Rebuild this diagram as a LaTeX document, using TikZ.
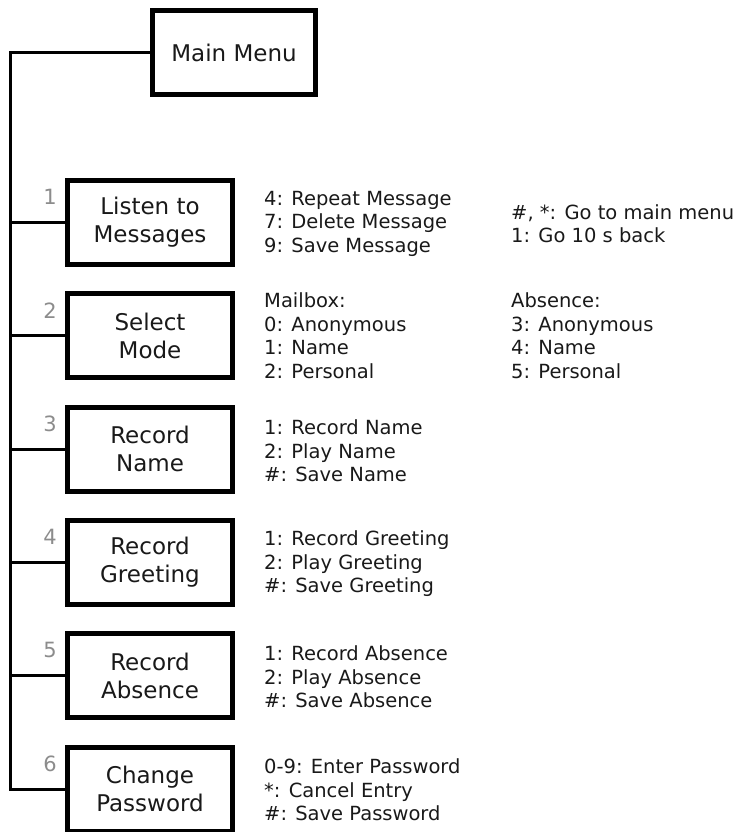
\documentclass[tikz,border=0pt]{standalone}
\usepackage{fontspec}
\setmainfont{DejaVu Sans}
\begin{document}
\begin{tikzpicture}[x=1pt,y=-1pt,
  menubox/.style={draw=black, line width=5pt, minimum width=165pt, minimum height=84pt,
    align=center, inner sep=0pt, text=black!90, font=\fontsize{23}{28}\selectfont},
  keys/.style={anchor=west, align=left, inner sep=0pt, text=black!90,
    font=\fontsize{19.5}{23.5}\selectfont},
  num/.style={text=black!45, inner sep=0pt, font=\fontsize{21}{22}\selectfont},
  conn/.style={line width=3pt, black}]
\useasboundingbox (0,0) rectangle (748,832);
\coordinate (trunk) at (10,0);

\node[menubox, minimum width=163pt] (main) at (234,52.5) {Main Menu};

\node[menubox] (b1) at (150,222.5) {Listen to\\Messages};
\node[menubox] (b2) at (150,335.8) {Select\\Mode};
\node[menubox] (b3) at (150,449) {Record\\Name};
\node[menubox] (b4) at (150,562.5) {Record\\Greeting};
\node[menubox] (b5) at (150,675.7) {Record\\Absence};
\node[menubox] (b6) at (150,789) {Change\\Password};

\node[num] (n1) at (50,197) {1};
\node[num] (n2) at (50,310.5) {2};
\node[num] (n3) at (50,423.5) {3};
\node[num] (n4) at (50,537) {4};
\node[num] (n5) at (50,650) {5};
\node[num] (n6) at (50,763.5) {6};

\draw[conn] (main.west) -- (main.west -| trunk) -- (b6.west -| trunk) -- (b6.west);
\foreach \b in {b1,b2,b3,b4,b5} {
  \draw[conn] (\b.west -| trunk) -- (\b.west);
}

\node[keys] (k1) at (264,223.5) {4: Repeat Message\\7: Delete Message\\9: Save Message};
\node[keys] (k1b) at (511,223.5) {\#, *: Go to main menu\\1: Go 10 s back};
\node[keys] (k2) at (264,335.8) {Mailbox:\\0: Anonymous\\1: Name\\2: Personal};
\node[keys] (k2b) at (511,335.8) {Absence:\\3: Anonymous\\4: Name\\5: Personal};
\node[keys] (k3) at (264,451) {1: Record Name\\2: Play Name\\\#: Save Name};
\node[keys] (k4) at (264,564) {1: Record Greeting\\2: Play Greeting\\\#: Save Greeting};
\node[keys] (k5) at (264,677) {1: Record Absence\\2: Play Absence\\\#: Save Absence};
\node[keys] (k6) at (264,790) {0-9: Enter Password\\*: Cancel Entry\\\#: Save Password};
\end{tikzpicture}
\end{document}
